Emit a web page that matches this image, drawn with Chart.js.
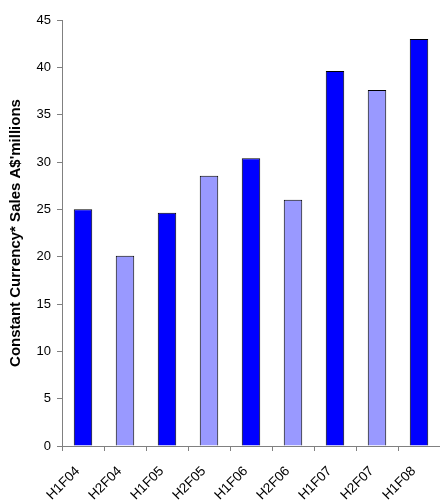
<!DOCTYPE html>
<html>
<head>
<meta charset="utf-8">
<script src="https://cdn.jsdelivr.net/npm/chart.js@4/dist/chart.umd.min.js"></script>
<style>
  html, body { margin: 0; padding: 0; background: #fff; }
  #wrap { width: 440px; height: 504px; position: relative; }
</style>
</head>
<body>
<div id="wrap"><canvas id="c" width="440" height="504"></canvas></div>
<script>
// Half-year periods and constant-currency sales (A$ millions)
const periods = ['H1F04', 'H2F04', 'H1F05', 'H2F05', 'H1F06', 'H2F06', 'H1F07', 'H2F07', 'H1F08'];
const sales = [25.0, 20.1, 24.65, 28.55, 30.4, 26.0, 39.6, 37.6, 43.0];
const yTicks = [0, 5, 10, 15, 20, 25, 30, 35, 40, 45];
const yTitle = "Constant Currency* Sales A$'millions";

// First halves in strong blue, second halves in pale blue
const colours = periods.map(p => p.startsWith('H1') ? '#0000FF' : '#9999FF');

const axisGrey = '#808080';
const family = '"Liberation Sans", Arial, sans-serif';

new Chart(document.getElementById('c'), {
  type: 'bar',
  data: {
    labels: periods,
    datasets: [{
      data: sales,
      backgroundColor: colours,
      borderColor: '#000000',
      borderWidth: 1,
      barPercentage: 0.44,
      categoryPercentage: 1.0
    }]
  },
  options: {
    responsive: false,
    animation: false,
    devicePixelRatio: 1,
    layout: { padding: { top: 20, right: 0, left: 0, bottom: 0 } },
    plugins: { legend: { display: false }, tooltip: { enabled: false } },
    scales: {
      x: {
        offset: true,
        grid: { display: true, drawOnChartArea: false, drawTicks: true, tickLength: 5, color: axisGrey, offset: true },
        border: { display: true, color: axisGrey, width: 1 },
        ticks: {
          color: '#000',
          font: { family: family, size: 13.5 },
          minRotation: 45, maxRotation: 45, padding: 7, autoSkip: false,
          // a little trailing room so each slanted label ends just before its bar's centre
          callback: function (value) { return this.getLabelForValue(value) + '  '; }
        },
        afterFit: s => { s.height = 58; }
      },
      y: {
        min: yTicks[0],
        max: yTicks[yTicks.length - 1],
        afterBuildTicks: s => { s.ticks = yTicks.map(v => ({ value: v })); },
        grid: { display: true, drawOnChartArea: false, drawTicks: true, tickLength: 5, color: axisGrey },
        border: { display: true, color: axisGrey, width: 1 },
        ticks: { color: '#000', font: { family: family, size: 13 }, padding: 6 },
        title: {
          display: true,
          text: yTitle,
          color: '#000',
          font: { family: family, size: 15, weight: 'bold' },
          padding: { top: 7, bottom: 0 }
        },
        afterFit: s => { s.width = 62; }
      }
    }
  }
});
</script>
</body>
</html>
